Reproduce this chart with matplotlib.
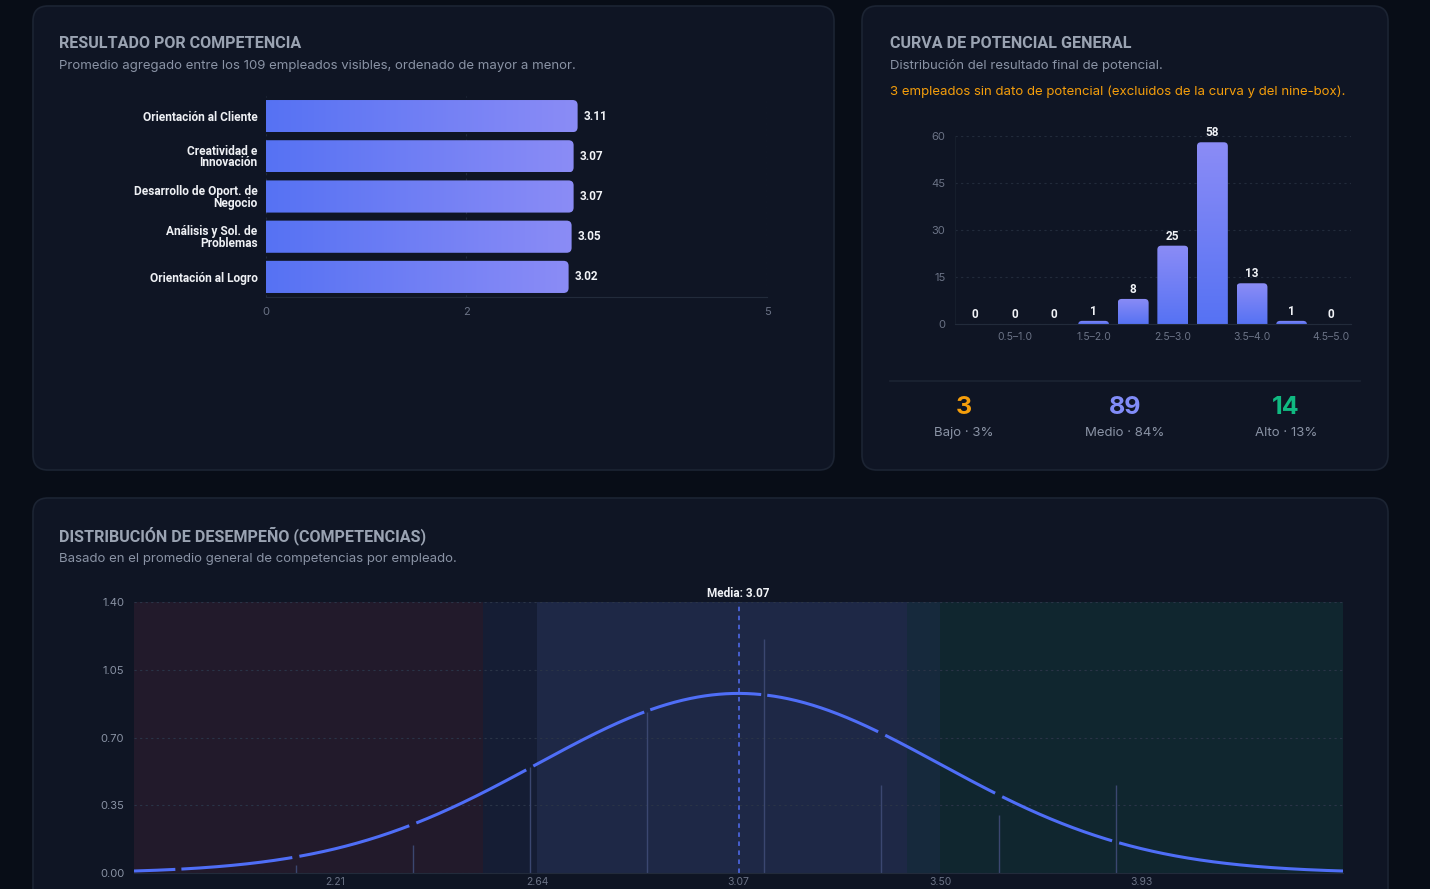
import numpy as np
import matplotlib
matplotlib.use("Agg")
import matplotlib.pyplot as plt
from matplotlib.patches import FancyBboxPatch
from matplotlib.colors import LinearSegmentedColormap

plt.rcParams['font.family'] = ['Inter', 'DejaVu Sans']

W, H = 1430, 889

# ---- datos ----
competencias = ["Orientación al Cliente", "Creatividad e\nInnovación",
                "Desarrollo de Oport. de\nNegocio", "Análisis y Sol. de\nProblemas",
                "Orientación al Logro"]
promedios = [3.11, 3.07, 3.07, 3.05, 3.02]
comp_ticks = [0, 2, 5]

rangos_pot = ["0.0–0.5", "0.5–1.0", "1.0–1.5", "1.5–2.0", "2.0–2.5",
              "2.5–3.0", "3.0–3.5", "3.5–4.0", "4.0–4.5", "4.5–5.0"]
conteo_pot = [0, 0, 0, 1, 8, 25, 58, 13, 1, 0]
pot_yticks = [0, 15, 30, 45, 60]

niveles = ["Bajo", "Medio", "Alto"]
niveles_n = [3, 89, 14]
niveles_pct = [3, 84, 13]
niveles_color = ["#f59e0b", "#818cf8", "#10b981"]

media = 3.07
desv = 0.43
bins_centro = [1.875, 2.125, 2.375, 2.625, 2.875, 3.125, 3.375, 3.625, 3.875]
bins_densidad = [0.0, 0.04, 0.145, 0.55, 0.83, 1.21, 0.455, 0.30, 0.455]
bandas_lim = [media - 3 * desv, 2.525, 2.64, 3.43, 3.50, media + 3 * desv]
bandas_color = ["#221a2b", "#151d34", "#1e2846", "#16293c", "#10262f"]
desem_xticks = [2.21, 2.64, 3.07, 3.50, 3.93]
desem_yticks = [0.00, 0.35, 0.70, 1.05, 1.40]

# ---- colores ----
BG = "#080d17"
PANEL = "#0f1524"
BORDE = "#1c2433"
TITULO = "#9aa3b2"
SUB = "#8a93a5"
TICK = "#6b7386"
GRID = "#222b3b"
grad = LinearSegmentedColormap.from_list("g", ["#5672f3", "#8b8cf6"])
COND = ["Roboto", "DejaVu Sans"]

fig = plt.figure(figsize=(W / 100, H / 100), dpi=100)
fig.patch.set_facecolor(BG)

bg = fig.add_axes([0, 0, 1, 1])
bg.set_xlim(0, W)
bg.set_ylim(H, 0)
bg.axis("off")
bg.set_zorder(-1)

for (x0, y0, x1, y1) in [(33, 6, 834, 470), (862, 6, 1388, 470), (33, 498, 1388, 960)]:
    bg.add_patch(FancyBboxPatch((x0, y0), x1 - x0, y1 - y0,
                                boxstyle="round,pad=0,rounding_size=15",
                                fc=PANEL, ec=BORDE, lw=1.2))


def px_axes(l, t, r, b):
    a = fig.add_axes([l / W, 1 - b / H, (r - l) / W, (b - t) / H])
    a.set_facecolor("none")
    return a


def titulo(x, y, txt, sub):
    bg.text(x, y + 1, txt, color=TITULO, fontsize=11.6, fontweight="bold",
            family=COND, va="center")
    bg.text(x, y + 24, sub, color=SUB, fontsize=9.5, va="center")


# ---- panel 1: resultado por competencia ----
titulo(59, 42, "RESULTADO POR COMPETENCIA",
       "Promedio agregado entre los 109 empleados visibles, ordenado de mayor a menor.")
ax1 = px_axes(266, 96, 767, 297)
ax1.set_xlim(0, 5)
ax1.set_ylim(len(promedios) - 0.5, -0.5)
asp1 = (501 / 5) / (201 / 5)
for i, v in enumerate(promedios):
    h = 0.8
    p = FancyBboxPatch((-0.3, i - h / 2), v + 0.3, h,
                       boxstyle="round,pad=0,rounding_size=0.05",
                       mutation_aspect=asp1, fc="none", ec="none")
    ax1.add_patch(p)
    im = ax1.imshow(np.linspace(0, 1, 256).reshape(1, -1), cmap=grad, aspect="auto",
                    extent=[0, v, i + h / 2, i - h / 2], interpolation="bilinear",
                    zorder=2)
    im.set_clip_path(p)
    ax1.annotate(f"{v:.2f}", (v, i), xytext=(4, 0), textcoords="offset points",
                 color="#f1f3f7", fontsize=8.5, fontweight="bold", va="center",
                 family=COND)
ax1.set_xlim(0, 5)
ax1.set_ylim(len(promedios) - 0.5, -0.5)
ax1.set_yticks(range(len(competencias)))
ax1.set_yticklabels(competencias, color="#eef0f4", fontsize=8.6, fontweight="bold",
                    family=COND, linespacing=0.85)
ax1.set_xticks(comp_ticks)
ax1.set_xticklabels([str(t) for t in comp_ticks], color=TICK, fontsize=8)
ax1.tick_params(axis="y", length=0, pad=6)
ax1.tick_params(axis="x", length=0, pad=7)
ax1.grid(axis="x", color=GRID, ls=(0, (2, 3)), lw=0.8)
ax1.set_axisbelow(True)
for s in ["top", "right", "left"]:
    ax1.spines[s].set_visible(False)
ax1.spines["bottom"].set_color(GRID)

# ---- panel 2: curva de potencial ----
titulo(890, 42, "CURVA DE POTENCIAL GENERAL", "Distribución del resultado final de potencial.")
bg.text(890, 92, "3 empleados sin dato de potencial (excluidos de la curva y del nine-box).",
        color="#f59e0b", fontsize=9.5, va="center")
ax2 = px_axes(955, 136, 1351, 324)
ax2.set_xlim(-0.5, len(conteo_pot) - 0.5)
ax2.set_ylim(0, 60)
asp2 = (396 / 10) / (188 / 60)
gradv = np.linspace(1, 0, 256).reshape(-1, 1)
for i, c in enumerate(conteo_pot):
    w = 0.78
    if c > 0:
        p = FancyBboxPatch((i - w / 2, -3), w, c + 3,
                           boxstyle="round,pad=0,rounding_size=0.1",
                           mutation_aspect=asp2, fc="none", ec="none")
        ax2.add_patch(p)
        im = ax2.imshow(gradv, cmap=grad, aspect="auto",
                        extent=[i - w / 2, i + w / 2, 0, c], origin="upper",
                        interpolation="bilinear", zorder=2)
        im.set_clip_path(p)
    ax2.annotate(str(c), (i, c), xytext=(0, 2), textcoords="offset points",
                 color="#f1f3f7", fontsize=8.5, fontweight="bold", ha="center", va="bottom",
                 family=COND)
ax2.set_xlim(-0.5, len(conteo_pot) - 0.5)
ax2.set_ylim(0, 60)
ax2.set_xticks(range(1, len(rangos_pot), 2))
ax2.set_xticklabels(rangos_pot[1::2], color=TICK, fontsize=7.5)
ax2.set_yticks(pot_yticks)
ax2.set_yticklabels([str(t) for t in pot_yticks], color=TICK, fontsize=8)
ax2.tick_params(axis="y", length=0, pad=7)
ax2.tick_params(axis="x", length=0, pad=6)
ax2.grid(axis="y", color=GRID, ls=(0, (2, 3)), lw=0.8)
ax2.set_axisbelow(True)
for s in ["top", "right"]:
    ax2.spines[s].set_visible(False)
ax2.spines["left"].set_color("#161e2c")
ax2.spines["bottom"].set_color(GRID)

bg.plot([890, 1360], [381, 381], color=BORDE, lw=1.2)
for xc, n, pct, nom, col in zip([964, 1125, 1286], niveles_n, niveles_pct, niveles, niveles_color):
    bg.text(xc, 408, str(n), color=col, fontsize=18, fontweight="bold", ha="center", va="center")
    bg.text(xc, 433, f"{nom} · {pct}%", color=SUB, fontsize=9.5, ha="center", va="center")

# ---- panel 3: distribución de desempeño ----
titulo(59, 535, "DISTRIBUCIÓN DE DESEMPEÑO (COMPETENCIAS)",
       "Basado en el promedio general de competencias por empleado.")
ax3 = px_axes(134, 602, 1343, 873)
lo, hi = media - 3 * desv, media + 3 * desv
for a, b, col in zip(bandas_lim[:-1], bandas_lim[1:], bandas_color):
    ax3.axvspan(a, b, color=col, lw=0, zorder=0.1)

xs = np.linspace(lo, hi, 1200)
ys = np.exp(-0.5 * ((xs - media) / desv) ** 2) / (desv * np.sqrt(2 * np.pi))
dist = np.min(np.abs(xs[:, None] - np.array(bins_centro)[None, :]), axis=1)
ys = np.where(dist < 0.006, np.nan, ys)
ax3.vlines(bins_centro, 0, bins_densidad, color="#3b4770", lw=1, zorder=2)
ax3.plot(xs, ys, color="#4f6ef7", lw=2.2, solid_capstyle="butt", zorder=3)
ax3.plot([media, media], [0, 1.4], color="#4a63d9", lw=1.3, ls=(0, (2.5, 2.5)), zorder=2.5)
ax3.annotate(f"Media: {media:.2f}", (media, 1.4), xytext=(0, 1.5), textcoords="offset points",
             color="#f1f3f7", fontsize=8.5, fontweight="bold", ha="center", va="bottom",
             family=COND)
ax3.set_xlim(lo, hi)
ax3.set_ylim(0, 1.4)
ax3.set_xticks(desem_xticks)
ax3.set_xticklabels([f"{t:.2f}" for t in desem_xticks], color=TICK, fontsize=7.5)
ax3.set_yticks(desem_yticks)
ax3.set_yticklabels([f"{t:.2f}" for t in desem_yticks], color=SUB, fontsize=8)
ax3.tick_params(axis="y", length=0, pad=7)
ax3.tick_params(axis="x", length=0, pad=3)
ax3.grid(axis="y", color="#2a3447", ls=(0, (2, 3)), lw=0.8)
ax3.set_axisbelow(True)
for s in ["top", "right", "left"]:
    ax3.spines[s].set_visible(False)
ax3.spines["bottom"].set_color(GRID)

fig.savefig("out.png", dpi=100, facecolor=BG)
